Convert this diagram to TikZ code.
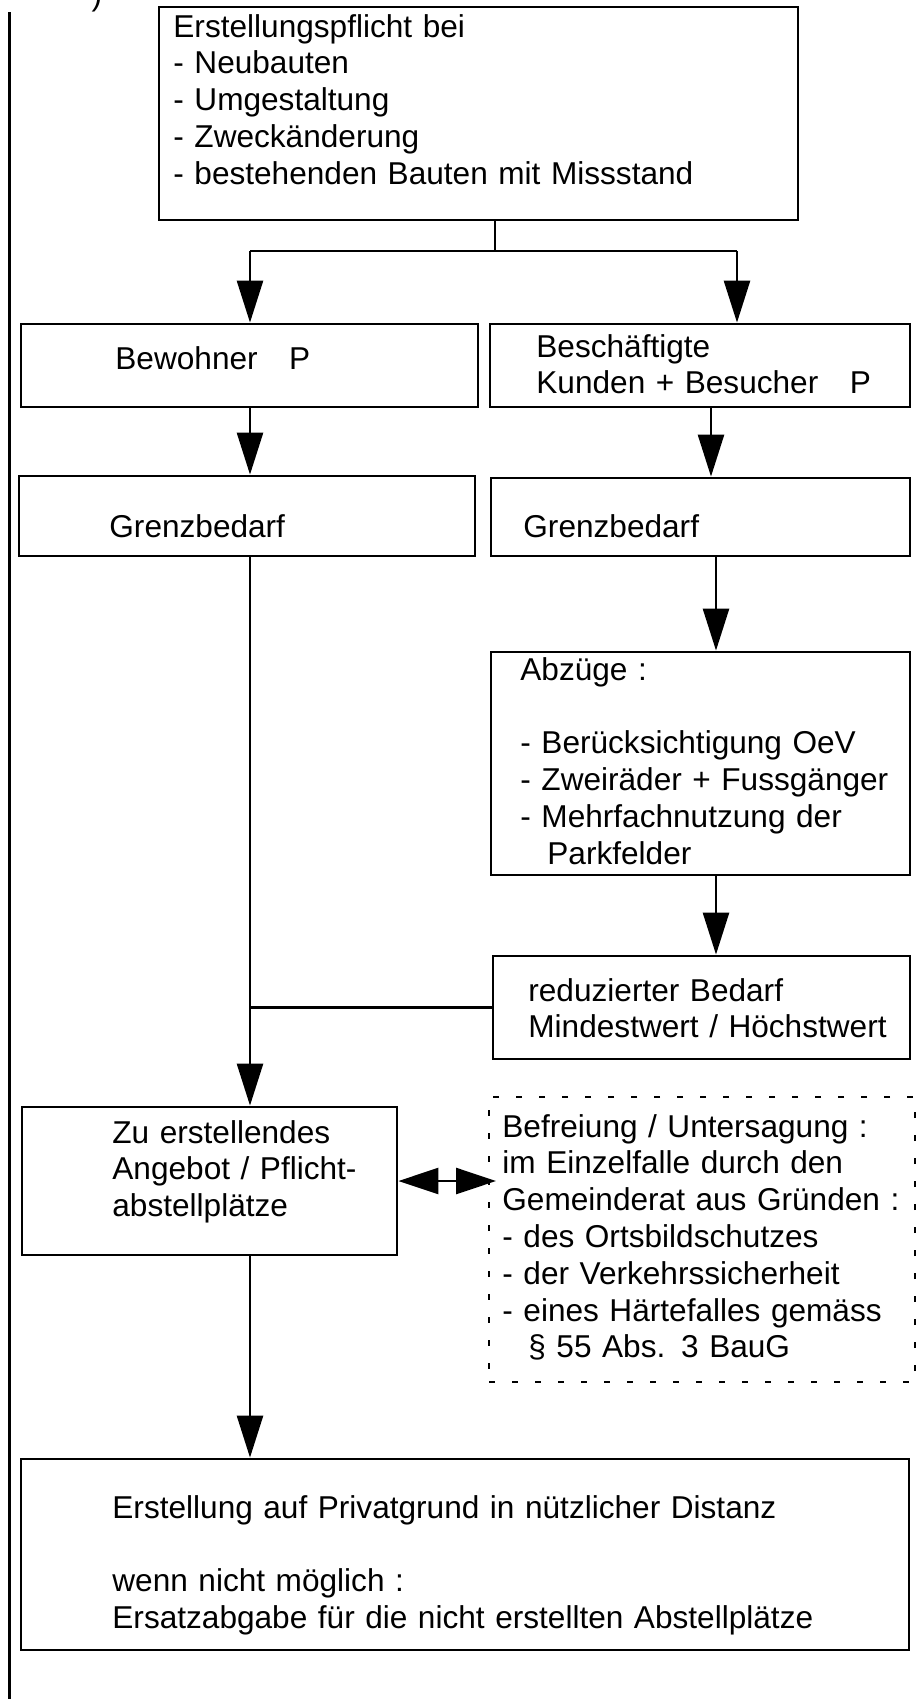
\documentclass[tikz,border=0pt]{standalone}
\usepackage{fontspec}
\setmainfont{Liberation Sans}
\usetikzlibrary{arrows.meta,fit}

\begin{document}
\begin{tikzpicture}[x=0.5pt, y=-0.5pt,
  font=\fontsize{15.8}{18.4}\selectfont,
  >={Triangle[length=21pt,width=13pt]},
  line/.style={line width=1.3pt},
  arr/.style={line, ->},
  dbl/.style={line, {Triangle[length=20pt,width=13pt]}-{Triangle[length=20pt,width=13pt]}},
  box/.style={draw, line width=1.4pt, inner sep=0pt},
  dashbox/.style={draw, line width=1pt, dash pattern=on 3pt off 8.5pt, inner sep=0pt},
  txt/.style={anchor=base west, inner sep=0pt, align=left, text width=400pt}]
  \useasboundingbox (0,0) rectangle (917,1699);
  % Nodes
  \node[box, fit={(159,7) (798,220)}] (pflicht) {} ; %
  \node[box, fit={(21,324) (478,407)}] (bewohner) {} ; %
  \node[box, fit={(490,324) (910,407)}] (beschaeftigte) {} ; %
  \node[box, fit={(19,476) (475,556)}] (grenzL) {} ; %
  \node[box, fit={(491,478) (910,556)}] (grenzR) {} ; %
  \node[box, fit={(491,652) (910,875)}] (abzuege) {} ; %
  \node[box, fit={(493,956) (910,1059)}] (reduziert) {} ; %
  \node[box, fit={(22,1107) (397,1255)}] (angebot) {} ; %
  \node[dashbox, fit={(489,1097) (915,1382)}] (befreiung) {} ; %
  \node[box, fit={(21,1459) (909,1650)}] (ersatz) {} ; %
  % Texts
  \node[inner sep=0pt, anchor=base] (paren) at (97,5) {)} ; %
  \node[txt] (pflichttext) at (173,37) {Erstellungspflicht bei\\- Neubauten\\- Umgestaltung\\- Zweckänderung\\- bestehenden Bauten mit Missstand} ; %
  \node[txt] (bewohnertext) at (115,369) {Bewohner\ \ \ P} ; %
  \node[txt] (beschaeftigtetext) at (536,357) {Beschäftigte\\Kunden + Besucher\ \ \ P} ; %
  \node[txt] (grenzLtext) at (109,537) {Grenzbedarf} ; %
  \node[txt] (grenzRtext) at (523,537) {Grenzbedarf} ; %
  \node[txt] (abzuegetext) at (520,680) {Abzüge :\\\mbox{}\\- Berücksichtigung OeV\\- Zweiräder + Fussgänger\\- Mehrfachnutzung der\\\hspace*{13.5pt}Parkfelder} ; %
  \node[txt] (reduzierttext) at (528,1001) {reduzierter Bedarf\\Mindestwert / Höchstwert} ; %
  \node[txt] (angebottext) at (112,1143) {Zu erstellendes\\Angebot / Pflicht-\\abstellplätze} ; %
  \node[txt] (befreiungtext) at (502,1137) {Befreiung / Untersagung :\\im Einzelfalle durch den\\Gemeinderat aus Gründen :\\- des Ortsbildschutzes\\- der Verkehrssicherheit\\- eines Härtefalles gemäss\\\hspace*{13pt}§ 55 Abs. 3 BauG} ; %
  \node[txt] (ersatztext) at (112,1518) {Erstellung auf Privatgrund in nützlicher Distanz\\\mbox{}\\wenn nicht möglich :\\Ersatzabgabe für die nicht erstellten Abstellplätze} ; %
  % Junctions
  \coordinate (fork) at (495,251) ; %
  \coordinate (forkL) at (250,251) ; %
  \coordinate (forkR) at (737,251) ; %
  \coordinate (colR) at (711,0) ; %
  \coordinate (colA) at (716,0) ; %
  % Edges
  \draw[line] (9.5,12) -- (9.5,1699) ; %
  \draw[line] (pflicht.south -| fork) -- (fork) ; %
  \draw[line] (forkL) -- (forkR) ; %
  \draw[arr] (forkL) -- (bewohner.north -| forkL) ; %
  \draw[arr] (forkR) -- (beschaeftigte.north -| forkR) ; %
  \draw[arr] (bewohner.south -| forkL) -- (grenzL.north -| forkL) ; %
  \draw[arr] (beschaeftigte.south -| colR) -- (grenzR.north -| colR) ; %
  \draw[arr] (grenzR.south -| colA) -- (abzuege.north -| colA) ; %
  \draw[arr] (abzuege.south -| colA) -- (reduziert.north -| colA) ; %
  \draw[arr] (grenzL.south -| forkL) -- (angebot.north -| forkL) ; %
  \draw[line] (reduziert.west) -- (reduziert.west -| forkL) ; %
  \draw[dbl] (angebot.east) -- ([xshift=4pt]angebot.east -| befreiung.west) ; %
  \draw[arr] (angebot.south -| forkL) -- (ersatz.north -| forkL) ; %
\end{tikzpicture}
\end{document}
